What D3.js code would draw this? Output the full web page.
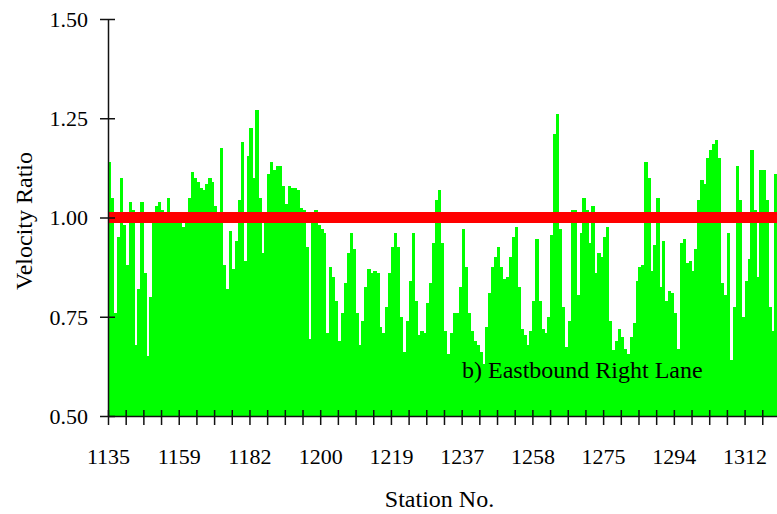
<!DOCTYPE html>
<html>
<head>
<meta charset="utf-8" />
<title>Velocity Ratio - Eastbound Right Lane</title>
<style>
body {
    margin: 0;
    background: #fff;
}
#graph {
    width: 777px;
    height: 514px;
}
svg text {
    font-family: "Liberation Serif", "DejaVu Serif", serif !important;
    fill: #000;
}
</style>
</head>
<body>
<div id="graph"></div>

<script src="https://d3js.org/d3.v7.min.js"></script>
<script>
// one value per station bar, read left to right off the plot
var velocityRatio = [
    1.14, 1.05, 0.76, 0.95, 1.10, 0.98, 0.88, 1.04, 1.02, 0.68,
    0.82, 1.04, 0.86, 0.65, 0.80, 0.99, 1.03, 1.04, 1.02, 0.985,
    1.05, 0.99, 1.00, 1.00, 1.00, 0.975, 0.99, 1.05, 1.115, 1.10,
    1.09, 1.075, 1.07, 1.085, 1.10, 1.09, 1.03, 1.01, 1.175, 0.88,
    0.82, 0.965, 0.87, 0.94, 1.045, 1.19, 0.89, 1.155, 1.225, 1.10,
    1.27, 1.05, 0.91, 1.01, 1.11, 1.14, 1.12, 1.13, 1.13, 1.08,
    1.035, 1.08, 1.075, 1.075, 1.07, 1.025, 1.02, 0.925, 0.695, 0.99,
    1.02, 0.98, 0.97, 0.96, 0.71, 0.875, 0.85, 0.79, 0.69, 0.76,
    0.835, 0.91, 0.96, 0.92, 0.76, 0.68, 0.74, 0.825, 0.87, 0.86,
    0.865, 0.86, 0.725, 0.71, 0.775, 0.86, 0.925, 0.96, 0.925, 0.75,
    0.66, 0.74, 0.84, 0.96, 0.79, 0.705, 0.715, 0.71, 0.785, 0.835,
    0.935, 1.045, 1.07, 0.935, 0.715, 0.655, 0.71, 0.76, 0.76, 0.825,
    0.97, 0.875, 0.76, 0.715, 0.69, 0.68, 0.66, 0.63, 0.725, 0.81,
    0.875, 0.90, 0.925, 0.875, 0.845, 0.85, 0.90, 0.95, 0.975, 0.825,
    0.72, 0.705, 0.68, 0.715, 0.79, 0.945, 0.79, 0.72, 0.71, 0.75,
    0.955, 1.21, 1.26, 0.97, 0.775, 0.675, 0.74, 1.02, 1.02, 0.805,
    0.96, 1.05, 1.02, 0.935, 1.03, 0.86, 0.91, 0.90, 0.95, 0.975,
    0.74, 0.665, 0.69, 0.72, 0.70, 0.67, 0.655, 0.70, 0.735, 0.84,
    0.875, 0.88, 1.14, 1.10, 0.865, 0.93, 1.05, 0.825, 0.94, 0.79,
    0.815, 0.81, 0.76, 0.67, 0.935, 0.945, 0.885, 0.89, 0.865, 0.92,
    1.045, 1.095, 1.085, 1.15, 1.17, 1.185, 1.195, 1.15, 0.835, 0.805,
    0.96, 0.64, 0.775, 1.13, 1.045, 0.75, 0.84, 0.895, 1.17, 1.02,
    0.85, 1.12, 1.12, 1.045, 0.775, 0.715, 1.11
];

// station numbers shown under every 4th tick mark
var stationLabels = ["1135", "1159", "1182", "1200", "1219", "1237", "1258", "1275", "1294", "1312"];
var yTicks = [0.50, 0.75, 1.00, 1.25, 1.50];
var referenceRatio = 1.00;
var tickEvery = 6;
var labelEvery = 24;

!(function(){
    "use strict"

    var serif = "'Liberation Serif', 'DejaVu Serif', serif";
    var width, height, margin;
    var svg = d3.select("#graph").append("svg");
    var chartLayer = svg.append("g").classed("chartLayer", true);
    var axisLayer = svg.append("g").classed("axisLayer", true);

    var xScale = d3.scaleLinear();
    var yScale = d3.scaleLinear();

    main(velocityRatio);

    function main(data) {
        setSize(data)
        drawChart(data)
        drawAxis(data)
    }

    function setSize(data) {
        width = 777
        height = 514
        margin = {top: 19, left: 108, bottom: 98, right: 0}

        svg.attr("width", width).attr("height", height)

        xScale.domain([0, data.length]).range([margin.left, width - margin.right])
        yScale.domain([0.5, 1.5]).range([height - margin.bottom, margin.top])
    }

    function drawChart(data) {
        chartLayer.selectAll(".bar")
            .data(data)
            .enter().append("rect").classed("bar", true)
            .attr("x", function(d, i){ return xScale(i) })
            .attr("width", function(d, i){ return xScale(i + 1) - xScale(i) + 0.4 })
            .attr("y", function(d){ return yScale(d) })
            .attr("height", function(d){ return yScale(0.5) - yScale(d) })
            .attr("fill", "#00ff00")
            .attr("shape-rendering", "crispEdges")

        chartLayer.append("line")
            .attr("x1", xScale(0))
            .attr("x2", xScale(data.length))
            .attr("y1", yScale(referenceRatio))
            .attr("y2", yScale(referenceRatio))
            .attr("stroke", "#ff0000")
            .attr("stroke-width", 11)

        chartLayer.append("text")
            .attr("x", 462)
            .attr("y", 378)
            .style("font-family", serif)
            .style("font-size", "24px")
            .text("b) Eastbound Right Lane")
    }

    function drawAxis(data) {
        var yAxis = d3.axisLeft(yScale)
            .tickValues(yTicks)
            .tickFormat(d3.format(".2f"))
            .tickSizeOuter(0)

        var gy = axisLayer.append("g")
            .attr("class", "axis y")
            .attr("transform", "translate(" + [margin.left, 0] + ")")
            .call(yAxis)
            .attr("font-family", null)

        gy.select(".domain").attr("stroke", "#111").attr("stroke-width", 1.5)
        gy.selectAll(".tick line")
            .attr("x1", -8).attr("x2", 7)
            .attr("stroke", "#111").attr("stroke-width", 1.5)
        gy.selectAll(".tick text")
            .attr("x", -20)
            .attr("dy", "0.34em")
            .style("font-family", serif)
            .style("font-size", "22px")
            .attr("fill", "#000")

        var tickIdx = d3.range(0, data.length, tickEvery)
        var xAxis = d3.axisBottom(xScale)
            .tickValues(tickIdx)
            .tickFormat(function(i){ return i % labelEvery === 0 ? stationLabels[i / labelEvery] : "" })
            .tickSizeOuter(0)

        var gx = axisLayer.append("g")
            .attr("class", "axis x")
            .attr("transform", "translate(" + [0, yScale(0.5)] + ")")
            .call(xAxis)
            .attr("font-family", null)

        gx.select(".domain").attr("stroke", "#111").attr("stroke-width", 1.5)
        gx.selectAll(".tick line")
            .attr("y1", -6).attr("y2", 9)
            .attr("stroke", "#111").attr("stroke-width", 1.5)
        gx.selectAll(".tick text")
            .attr("y", 48)
            .attr("dy", 0)
            .style("font-family", serif)
            .style("font-size", "22px")
            .attr("fill", "#000")

        axisLayer.append("text")
            .attr("x", (xScale.range()[0] + xScale.range()[1]) / 2 - 3)
            .attr("y", 507)
            .attr("text-anchor", "middle")
            .style("font-family", serif)
            .style("font-size", "24px")
            .text("Station No.")

        axisLayer.append("text")
            .attr("transform", "translate(32," + 221 + ") rotate(-90)")
            .attr("text-anchor", "middle")
            .style("font-family", serif)
            .style("font-size", "24px")
            .text("Velocity Ratio")
    }
}());
</script>
</body>
</html>
